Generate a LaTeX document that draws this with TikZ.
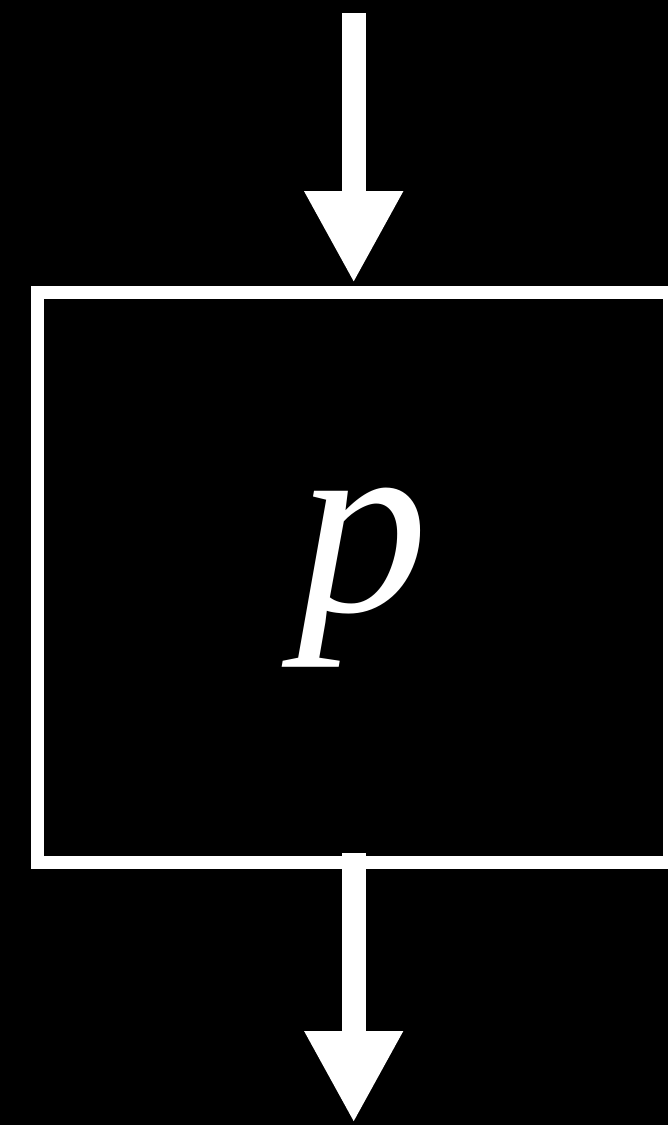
\documentclass[tikz,border=0pt]{standalone}
\usepackage{fontspec}
\setmainfont{Liberation Serif}
\usetikzlibrary{arrows.meta,positioning}

\begin{document}
\begin{tikzpicture}[x=1pt,y=-1pt,
    flow/.style={white,line width=24pt,-{Triangle[width=92pt,length=92pt]}}]
    \fill[black] (0,0) rectangle (668,1125);
    \useasboundingbox (0,0) rectangle (668,1125);
    \node[draw=white,line width=13pt,minimum width=632pt,minimum height=570pt,inner sep=0pt] (proc) at (353.7,577.7) {};
    \node[text=white,inner sep=0pt,font=\itshape\fontsize{262}{262}\selectfont,xshift=9pt] (lbl) at (proc.center) {p};
    \coordinate (in) at (353.7,13);
    \coordinate (out) at (353.7,1123);
    \draw[flow] (in) -- ([yshift=3pt]proc.north);
    \draw[flow] ([yshift=16pt]proc.south) -- (out);
\end{tikzpicture}
\end{document}
